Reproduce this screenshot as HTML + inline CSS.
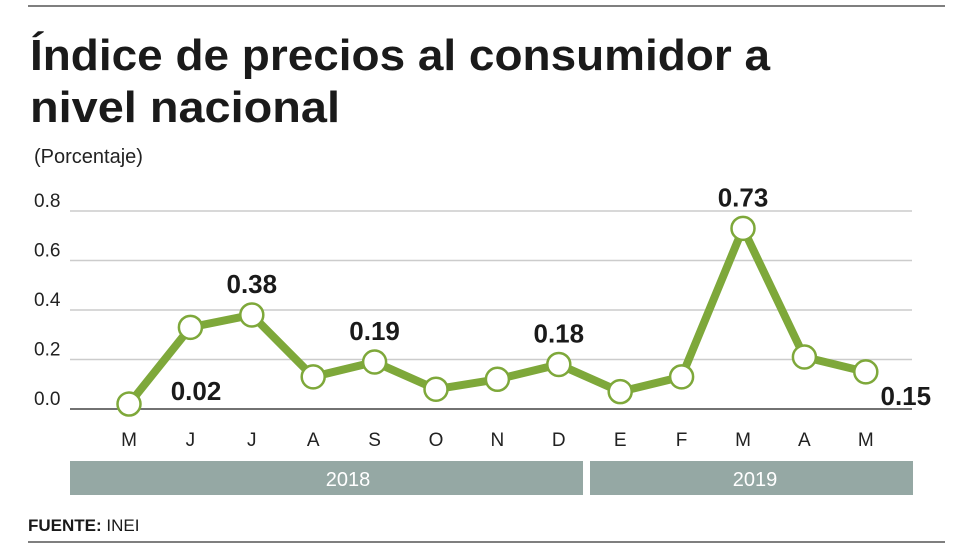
<!DOCTYPE html>
<html><head><meta charset="utf-8"><style>
body{margin:0;background:#fff;width:980px;height:549px;overflow:hidden;font-family:"Liberation Sans",sans-serif}
svg{display:block}
</style></head><body>
<svg width="980" height="549" id="c">
<line x1="28" y1="6" x2="945" y2="6" stroke="#555" stroke-width="1.5"/>
<text x="30" y="70" font-size="44" font-weight="bold" fill="#1a1a1a" textLength="740" lengthAdjust="spacingAndGlyphs">Índice de precios al consumidor a</text>
<text x="30" y="122" font-size="44" font-weight="bold" fill="#1a1a1a" textLength="310" lengthAdjust="spacingAndGlyphs">nivel nacional</text>
<text x="34" y="163" font-size="20" fill="#222">(Porcentaje)</text>
<g id="grid"></g><g id="marks"></g>
<rect x="70" y="461" width="513" height="34" fill="#95a8a4"/>
<text x="348" y="486" font-size="20" fill="#fff" text-anchor="middle">2018</text>
<rect x="590" y="461" width="323" height="34" fill="#95a8a4"/>
<text x="755" y="486" font-size="20" fill="#fff" text-anchor="middle">2019</text>
<text x="28" y="531" font-size="17" fill="#1a1a1a"><tspan font-weight="bold">FUENTE:</tspan> INEI</text>
<line x1="28" y1="542" x2="945" y2="542" stroke="#555" stroke-width="1.5"/>
</svg>
<script>
const categories=["M","J","J","A","S","O","N","D","E","F","M","A","M"];
const values=[0.02,0.33,0.38,0.13,0.19,0.08,0.12,0.18,0.07,0.13,0.73,0.21,0.15];
const yTicks=[0,0.2,0.4,0.6,0.8];
const yTickLabels=["0.0","0.2","0.4","0.6","0.8"];
const labeled=[0,2,4,7,10,12];
const NS="http://www.w3.org/2000/svg";
const x=i=>129+i*61.4;
const y=v=>409-v*247.5;
function mk(t,a,p){const e=document.createElementNS(NS,t);for(const k in a)e.setAttribute(k,a[k]);p.appendChild(e);return e;}
const g=document.getElementById('grid'),m=document.getElementById('marks');
yTicks.forEach((t,i)=>{
 const l=mk('line',{x1:70,x2:912,y1:y(t),y2:y(t),stroke:i?'#ccc':'#444','stroke-width':i?1.5:1.5},g);
 
 
 const tx=mk('text',{x:34,y:y(t)-4,'font-size':19,fill:'#222'},g);tx.textContent=yTickLabels[i];
 
 
});
categories.forEach((c,i)=>{
 const tx=mk('text',{x:x(i),y:446,'font-size':19,fill:'#222','text-anchor':'middle'},g);tx.textContent=c;
 
 
});
const pl=mk('polyline',{points:values.map((v,i)=>x(i)+','+y(v)).join(' '),fill:'none',stroke:'#7ea83a','stroke-width':8,'stroke-linejoin':'round'},m);


values.forEach((v,i)=>{
 const c=mk('circle',{cx:x(i),cy:y(v),r:11.5,fill:'#fff',stroke:'#7ea83a','stroke-width':2.5},m);
 
 
});
labeled.forEach(i=>{
 let lx=x(i),ly=y(values[i])-22,anc='middle';
 if(i===0){lx=x(i)+67;ly=400;}
 if(i===12){lx=x(i)+40;ly=405;}
 const tx=mk('text',{x:lx,y:ly,'font-size':26,'font-weight':'bold',fill:'#1a1a1a','text-anchor':anc},m);
 tx.textContent=values[i].toFixed(2);
 
 
});
</script>
</body></html>
